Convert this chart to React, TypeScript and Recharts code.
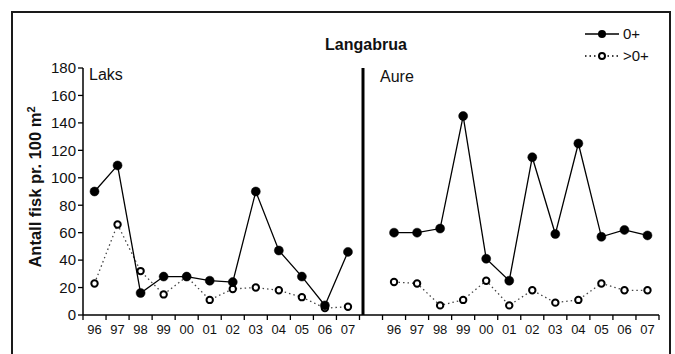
import React from 'react';
import { LineChart, Line, XAxis, YAxis, ReferenceLine } from 'recharts';

const years = ['96', '97', '98', '99', '00', '01', '02', '03', '04', '05', '06', '07'];
// Laks (salmon) densities, 0+ and older
const laksYoung = [90, 109, 16, 28, 28, 25, 24, 90, 47, 28, 7, 46];
const laksOlder = [23, 66, 32, 15, 28, 11, 19, 20, 18, 13, 5, 6];
// Aure (trout) densities, 0+ and older
const aureYoung = [60, 60, 63, 145, 41, 25, 115, 59, 125, 57, 62, 58];
const aureOlder = [24, 23, 7, 11, 25, 7, 18, 9, 11, 23, 18, 18];
const yTicks = [0, 20, 40, 60, 80, 100, 120, 140, 160, 180];

const W = 675;
const H = 354;
const LEFT = 83;
const RIGHT = 659;
const SLOTS = 25; // 12 years + one empty slot + 12 years
const STEP = (RIGHT - LEFT) / SLOTS;
const FONT = '"Liberation Sans", Arial, sans-serif';

// one row per slot; the middle slot stays empty so the lines break there
const rows: Array<{ x: number; young: number | null; older: number | null }> = [];
years.forEach((_, i) => rows.push({ x: i + 0.5, young: laksYoung[i], older: laksOlder[i] }));
rows.push({ x: 12.5, young: null, older: null });
years.forEach((_, i) => rows.push({ x: 13 + i + 0.5, young: aureYoung[i], older: aureOlder[i] }));

const slotLabel = (v: number) => {
  if (v < 12) return years[v];
  if (v > 12 && v < 25) return years[v - 13];
  return '';
};

const YearTick = (props: any) => {
  const { x, y, payload } = props;
  const text = slotLabel(payload.value);
  if (!text) return null;
  return (
    <text x={x + STEP / 2} y={y} dy={12} textAnchor="middle" fontSize={13} fill="#111" fontFamily={FONT}>
      {text}
    </text>
  );
};

export default function App() {
  return (
    <div style={{ position: 'fixed', left: 0, top: 0, width: W, height: H, overflow: 'hidden', background: '#fff', fontFamily: FONT }}>
      <div style={{ position: 'absolute', left: 11, top: 11, width: 656, height: 400, border: '2px solid #1a1a1a' }} />
      <div style={{ position: 'absolute', left: 0, top: 0 }}>
        <LineChart width={W} height={H} data={rows} margin={{ top: 68, right: W - RIGHT, bottom: 9, left: LEFT - 50 }}>
          <XAxis
            type="number"
            dataKey="x"
            domain={[0, SLOTS]}
            ticks={Array.from({ length: SLOTS + 1 }, (_, i) => i)}
            interval={0}
            height={30}
            tickSize={5}
            tickMargin={2}
            tick={<YearTick />}
            axisLine={{ stroke: '#000', strokeWidth: 1.5 }}
            tickLine={{ stroke: '#000', strokeWidth: 1.3 }}
          />
          <YAxis
            domain={[0, 180]}
            ticks={yTicks}
            interval={0}
            width={50}
            tickSize={5}
            tickMargin={2}
            tick={{ fontSize: 15, fill: '#111', fontFamily: FONT }}
            axisLine={{ stroke: '#000', strokeWidth: 1.5 }}
            tickLine={{ stroke: '#000', strokeWidth: 1.3 }}
          />
          <ReferenceLine x={(363 - LEFT) / STEP} stroke="#000" strokeWidth={3} />
          <Line
            dataKey="older"
            name=">0+"
            stroke="#444"
            strokeWidth={1.3}
            strokeDasharray="1.5 3"
            dot={{ r: 3.2, fill: '#fff', stroke: '#000', strokeWidth: 2, strokeDasharray: '0' }}
            connectNulls={false}
            isAnimationActive={false}
          />
          <Line
            dataKey="young"
            name="0+"
            stroke="#000"
            strokeWidth={1.3}
            dot={{ r: 4.5, fill: '#000', stroke: '#000', strokeWidth: 0.5 }}
            connectNulls={false}
            isAnimationActive={false}
          />
        </LineChart>
      </div>
      <svg width={W} height={H} style={{ position: 'absolute', left: 0, top: 0, pointerEvents: 'none' }}>
        <text x={366} y={50} textAnchor="middle" fontSize={16} fontWeight="bold" fill="#111" fontFamily={FONT}>
          Langabrua
        </text>
        <text x={89} y={80} fontSize={16} fill="#111" fontFamily={FONT}>Laks</text>
        <text x={380} y={82} fontSize={16} fill="#111" fontFamily={FONT}>Aure</text>
        <text
          transform="translate(41,187) rotate(-90)"
          textAnchor="middle"
          fontSize={16.5}
          fontWeight="bold"
          fill="#111"
          fontFamily={FONT}
        >
          Antall fisk pr. 100 m<tspan dy={-6} fontSize={11}>2</tspan>
        </text>
        {/* legend */}
        <g transform="translate(585,25)">
          <line x1={0} y1={9} x2={34} y2={9} stroke="#000" strokeWidth={1.3} />
          <circle cx={17} cy={9} r={4} fill="#000" />
          <text x={38} y={14} fontSize={15} fontFamily={FONT} fill="#111">0+</text>
          <line x1={0} y1={31} x2={34} y2={31} stroke="#000" strokeWidth={1.5} strokeDasharray="1.5 3" />
          <circle cx={17} cy={31} r={3} fill="#fff" stroke="#000" strokeWidth={2} />
          <text x={38} y={36} fontSize={15} fontFamily={FONT} fill="#111">&gt;0+</text>
        </g>
      </svg>
    </div>
  );
}
